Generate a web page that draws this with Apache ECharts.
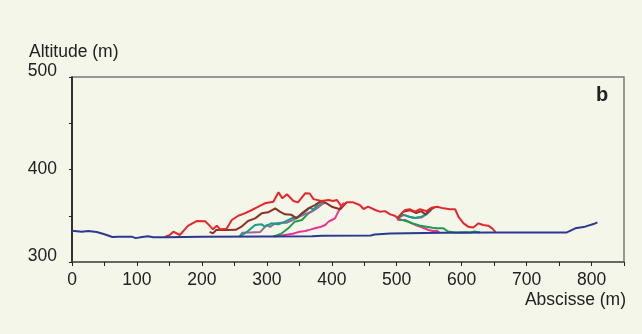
<!DOCTYPE html>
<html>
<head>
<meta charset="utf-8">
<script src="https://cdn.jsdelivr.net/npm/echarts@6/dist/echarts.min.js"></script>
<style>
  html, body { margin: 0; padding: 0; background: #F3F6E8; }
  #chart { width: 642px; height: 334px; }
</style>
</head>
<body>
<div id="chart"></div>
<script>
// Axis ticks
const xTicks = [0, 100, 200, 300, 400, 500, 600, 700, 800];
const yTicks = [300, 400, 500];

// Ground profile (abscisse m, altitude m)
const groundProfile = [
  [0, 333.8], [15, 332.8], [25, 333.5], [38, 332.5], [50, 330], [62, 327], [72, 327.4],
  [92, 327.4], [98, 325.8], [108, 327], [117, 327.8], [125, 326.8], [145, 326.8],
  [200, 327.3], [300, 327.6], [370, 327.8], [385, 328.5], [460, 328.6], [466, 329.8],
  [490, 330.8], [570, 331.5], [650, 332], [762, 332], [775, 336.4], [790, 338.2],
  [803, 341], [809, 342.9]
];

// Surface profiles, each as a list of segments
const redProfile = [[
  [143, 327], [150, 329], [156, 332.8], [166, 329.2], [179, 339.3], [192, 344.3], [205, 344],
  [212, 339.3], [217, 335.3], [223, 339.3], [228, 335.3], [238, 336], [246, 345.4], [256, 350],
  [266, 352.6], [277, 356.2], [284, 358.7], [297, 363.4], [310, 365.2], [318, 375.3], [324, 368.8],
  [331, 373.2], [341, 366], [348, 364.5], [359, 374.3], [366, 374], [372, 368], [384, 366],
  [395, 367], [402, 366], [408, 367], [415, 359.8], [423, 364.5], [433, 364.5], [443, 361.6],
  [449, 357.3], [456, 359.8], [467, 356.2], [474, 354.4], [482, 355], [490, 351.5], [497, 350],
  [502, 347.2], [508, 352.6], [513, 356.2], [520, 357], [528, 354.4], [536, 357], [546, 355],
  [554, 358.7], [562, 359.8], [572, 358], [582, 357], [590, 357], [595, 349], [603, 341.8],
  [610, 338.2], [618, 337.3], [626, 341.8], [633, 340], [641, 339.3], [647, 336.4], [652, 332.5]
]];

const brownProfile = [[
  [212, 332.5], [217, 331], [222, 334.6], [240, 334.6], [252, 334.8], [261, 338.2], [271, 344.3],
  [282, 347.2], [292, 352.6], [302, 353.7], [313, 358], [320, 354.4], [328, 351.5], [338, 351],
  [346, 347.2], [354, 352.6], [364, 358], [374, 361.6], [384, 366], [392, 363.4], [400, 359.8],
  [413, 357], [423, 364.5]
], [
  [502, 348], [510, 354.4], [520, 356], [530, 353], [538, 355], [544, 351.5], [551, 356], [558, 359]
]];

const tealProfile = [[
  [258, 327.5], [264, 330], [271, 333.5], [282, 340], [292, 340.7], [297, 338.2], [307, 341.8],
  [318, 340.7], [328, 343.6], [338, 347.2], [348, 348.8], [359, 354.4], [366, 358.7], [372, 356.5],
  [379, 363.4], [386, 366]
], [
  [503, 348], [510, 351], [518, 349], [528, 347.5], [538, 349], [546, 351.5], [553, 357]
]];

const greenProfile = [[
  [310, 327.5], [316, 329], [323, 331], [333, 336.4], [343, 343.6], [354, 345.4], [364, 352.6],
  [374, 357], [384, 363], [392, 364]
], [
  [502, 347], [510, 345], [518, 343.5], [525, 341.8], [535, 339.5], [546, 338.2], [555, 337],
  [562, 336.4], [572, 336.4], [579, 333], [590, 332], [605, 332.2], [613, 332], [620, 333], [628, 331.8]
]];

const mauveProfile = [[
  [258, 327.5], [262, 331.5], [275, 332], [290, 332.5], [295, 336.4], [300, 340], [305, 338],
  [312, 341.5], [322, 342.5], [331, 342.5], [340, 345.4], [350, 349], [360, 352], [368, 354],
  [378, 358.5], [388, 364]
], [
  [505, 349], [512, 351], [520, 349], [528, 347.5], [538, 348], [546, 352], [553, 356]
]];

const pinkProfile = [[
  [312, 327.5], [325, 329], [340, 330.5], [351, 332.8], [359, 333.5], [367, 335], [374, 336.4],
  [384, 338.2], [390, 340], [395, 343.6], [400, 345.4], [405, 347.2], [410, 354.4], [415, 361], [419, 364]
], [
  [500, 349], [502, 345.4], [513, 345.4], [523, 341.8], [531, 339.3], [541, 337], [549, 334.6],
  [556, 333.5], [562, 333.8], [566, 331.5]
]];

// Join segments with gaps so each profile is a single series
function joinSegments(segments) {
  const out = [];
  segments.forEach((seg, i) => {
    if (i > 0) out.push([seg[0][0], '-']);
    seg.forEach(p => out.push(p));
  });
  return out;
}

const FONT = "'Liberation Sans', Arial, Helvetica, sans-serif";
const FS = 17.5;

function lineSeries(name, data, color, z) {
  return {
    name, type: 'line', data, z,
    showSymbol: false, symbol: 'none', connectNulls: false,
    lineStyle: { color, width: 2 },
    itemStyle: { color },
    animation: false
  };
}

const chart = echarts.init(document.getElementById('chart'), null, { renderer: 'canvas' });

chart.setOption({
  backgroundColor: '#F3F6E8',
  animation: false,
  grid: {
    left: 72, right: 18, top: 77, bottom: 72,
    show: true, borderColor: '#7a7a7a', borderWidth: 1.5, backgroundColor: 'transparent'
  },
  xAxis: {
    type: 'value', min: 0, max: 850, interval: 50,
    axisLine: { show: true, lineStyle: { color: '#555', width: 1.5 } },
    axisTick: { show: true, length: 4, lineStyle: { color: '#222' } },
    splitLine: { show: false },
    axisLabel: {
      margin: 9, color: '#222', fontSize: FS, fontFamily: FONT,
      formatter: v => (xTicks.includes(v) ? String(v) : '')
    }
  },
  yAxis: {
    type: 'value', min: 300, max: 500, interval: 50,
    axisLine: { show: true, lineStyle: { color: '#111', width: 1.5 } },
    axisTick: { show: true, length: 3, lineStyle: { color: '#222' } },
    splitLine: { show: false },
    axisLabel: {
      margin: 15, color: '#222', fontSize: FS, fontFamily: FONT, verticalAlign: 'middle',
      formatter: v => {
        if (!yTicks.includes(v)) return '';
        return v === 400 ? '{mid|' + v + '}' : '{edge|' + v + '}';
      },
      rich: {
        mid: { fontSize: FS, fontFamily: FONT, color: '#222' },
        edge: { fontSize: FS, fontFamily: FONT, color: '#222', padding: [0, 0, 12, 0] }
      }
    }
  },
  graphic: [
    { type: 'text', left: 29, top: 43,
      style: { text: 'Altitude (m)', font: FS + 'px ' + FONT, fill: '#222' } },
    { type: 'text', right: 16, top: 291,
      style: { text: 'Abscisse (m)', font: FS + 'px ' + FONT, fill: '#222' } },
    { type: 'text', left: 596, top: 85,
      style: { text: 'b', font: 'bold 20px ' + FONT, fill: '#222' } }
  ],
  series: [
    lineSeries('pink', joinSegments(pinkProfile), '#EE3196', 2),
    lineSeries('green', joinSegments(greenProfile), '#17A04E', 2),
    lineSeries('mauve', joinSegments(mauveProfile), '#A0649A', 2),
    lineSeries('teal', joinSegments(tealProfile), '#14A088', 2),
    lineSeries('brown', joinSegments(brownProfile), '#8C3228', 2),
    lineSeries('red', joinSegments(redProfile), '#E3282D', 3),
    lineSeries('ground', groundProfile, '#2B3990', 4)
  ]
});
</script>
</body>
</html>
